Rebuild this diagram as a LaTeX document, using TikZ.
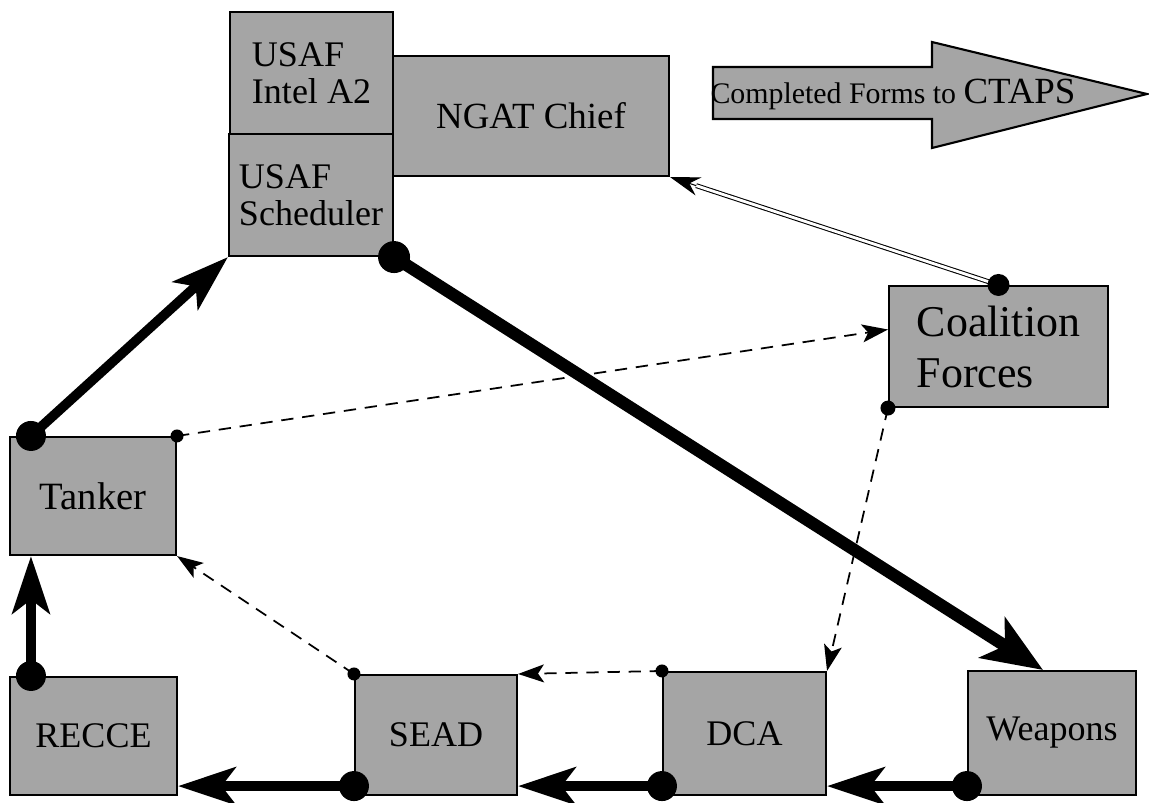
\documentclass[tikz,border=0pt]{standalone}
\usepackage{fontspec}
\setmainfont{Liberation Serif}
\usepackage{tikz}
\usetikzlibrary{arrows.meta,calc}
\definecolor{unitgray}{RGB}{165, 165, 165}

\begin{document}
\begin{tikzpicture}[x=0.02cm, y=-0.02cm,
    unit/.style={draw, line width=1.2pt, fill=unitgray, inner sep=2pt, align=left,
      font=\fontsize{20.5}{21}\selectfont},
    flow/.style={line width=5.5pt, -{Stealth[length=1.15cm, width=0.75cm, inset=0.28cm]}},
    feed/.style={line width=1pt, dash pattern=on 7pt off 5pt,
      -{Stealth[length=0.52cm, width=0.36cm, inset=0.12cm]}}]
    \useasboundingbox (0,0) rectangle (1149,802);
    \node[unit, minimum width=3.26cm, minimum height=2.44cm] (intel) at (311.5,73) {USAF\\Intel A2};
    \node[unit, minimum width=3.28cm, minimum height=2.44cm] (sched) at (311,195) {USAF\\Scheduler};
    \node[unit, minimum width=5.52cm, minimum height=2.40cm, font=\fontsize{21}{21}\selectfont] (ngat) at (531,116) {NGAT Chief};
    \node[unit, minimum width=4.38cm, minimum height=2.42cm, font=\fontsize{25}{29}\selectfont] (coal) at (998.5,346.5) {Coalition\\Forces};
    \node[unit, minimum width=3.32cm, minimum height=2.36cm, font=\fontsize{22}{22}\selectfont] (tanker) at (93,496) {Tanker};
    \node[unit, minimum width=3.34cm, minimum height=2.36cm] (recce) at (93.5,736) {RECCE};
    \node[unit, minimum width=3.24cm, minimum height=2.40cm] (sead) at (436,735) {SEAD};
    \node[unit, minimum width=3.26cm, minimum height=2.46cm] (dca) at (744.5,733.5) {DCA};
    \node[unit, minimum width=3.36cm, minimum height=2.48cm] (weap) at (1052,733) {Weapons};
    % forms arrow
    \draw[line width=1.2pt, fill=unitgray] (713,67) -- (932,67) -- (932,42) -- (1147,94)
        -- (932,148) -- (932,119) -- (713,119) -- cycle;
    \node (forms) at (893,94) {\fontsize{17}{17}\selectfont Completed Forms to \fontsize{21}{21}\selectfont CTAPS};
    % connectors
    \draw[flow] ([xshift=0.44cm]recce.north west) -- ([xshift=0.44cm]tanker.south west);
    \fill ([xshift=0.44cm]recce.north west) circle (0.3cm);
    \draw[flow] ([xshift=0.44cm]tanker.north west) -- (sched.south west);
    \fill ([xshift=0.44cm]tanker.north west) circle (0.3cm);
    \draw[flow, line width=7pt, -{Stealth[length=1.2cm, width=0.95cm, inset=0.3cm]}] (sched.south east) -- ([xshift=-0.18cm]weap.north);
    \fill (sched.south east) circle (0.32cm);
    \draw[flow] ([yshift=0.2cm]weap.south west) -- ([yshift=0.2cm]dca.south east);
    \fill ([yshift=0.2cm]weap.south west) circle (0.3cm);
    \draw[flow] ([yshift=0.2cm]dca.south west) -- ([yshift=0.2cm]sead.south east);
    \fill ([yshift=0.2cm]dca.south west) circle (0.3cm);
    \draw[flow] ([yshift=0.2cm]sead.south west) -- ([yshift=0.2cm]recce.south east);
    \fill ([yshift=0.2cm]sead.south west) circle (0.3cm);
    \coordinate (back) at ($(ngat.south east)!0.55cm!(coal.north)$);
    \draw[double, line width=0.6pt, double distance=1.6pt] (coal.north) -- (back);
    \draw[line width=0.6pt, -{Stealth[length=0.6cm, width=0.38cm]}] (back) -- (ngat.south east);
    \fill (coal.north) circle (0.22cm);
    \draw[feed] (tanker.north east) -- ([yshift=0.34cm]coal.west);
    \fill (tanker.north east) circle (0.13cm);
    \draw[feed] (coal.south west) -- (dca.north east);
    \fill (coal.south west) circle (0.15cm);
    \draw[feed] (dca.north west) -- (sead.north east);
    \fill (dca.north west) circle (0.13cm);
    \draw[feed] (sead.north west) -- (tanker.south east);
    \fill (sead.north west) circle (0.13cm);
\end{tikzpicture}
\end{document}
